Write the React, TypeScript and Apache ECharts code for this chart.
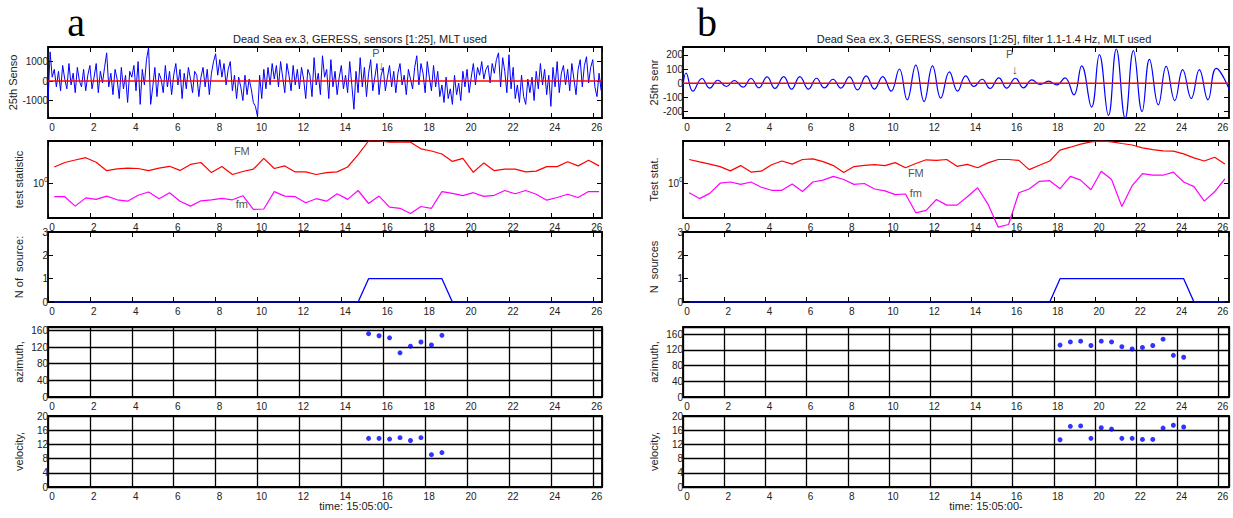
import React, { useEffect, useRef } from 'react';
import * as echarts from 'echarts';

// ---------- data ----------
const xTickLabels = [0, 2, 4, 6, 8, 10, 12, 14, 16, 18, 20, 22, 24, 26];

// panel a1: raw trace, 25th sensor, sampled every 0.1 s from t = 0
const a1Step = 0.1;
const a1Values = [
  -1100, 1500, 200, 600, -300, 500, -500, 800, 100, -400,
  900, -200, 400, -600, 700, 0, -300, 600, -500, 300,
  800, -400, 200, 900, -600, 500, -100, 700, 1450, -300,
  400, -700, 600, 100, -900, 700, -400, 300, -1100, 500,
  200, 800, -500, 1000, -1200, 600, -200, 1100, 1720, -1200,
  -300, 700, -800, 400, 100, -600, 800, -300, 500, -700,
  300, 900, -200, 600, -900, 400, -400, 700, 100, -600,
  500, 300, -800, 200, 700, -300, 600, -700, 400, 1000,
  1400, 300, 1100, 200, 900, -200, 600, 1000, -500, 300,
  -900, 200, -300, -1000, 300, -700, 100, -400, -1100, -1300,
  -1830, 300, -900, 600, -400, 700, -200, 900, 100, 800,
  -300, 1000, 200, -600, 900, 300, -500, 800, -200, 600,
  -400, 700, 100, -900, 600, 300, -800, 1200, -200, 400,
  -700, 1300, 200, 600, -900, 1100, -300, 500, -700, 200,
  800, -400, 300, -600, 1000, -200, -1450, 500, -600, 1200,
  -300, 700, -800, 400, 1100, -500, 200, 900, -700, 300,
  700, -500, 200, 800, -300, 500, -600, 400, 900, -200,
  300, -700, 600, 100, -400, 700, 1300, -200, 900, 400,
  -600, 1000, 200, -500, 800, -300, 500, -800, -200, -1100,
  200, -900, -400, -1200, 300, -700, -100, -1000, 500, -300,
  600, -600, 200, 900, -200, 700, 300, 1000, 100, 600,
  800, -100, 900, 400, 1100, 1450, -300, 1200, 500, -600,
  1350, -400, 700, -900, -200, -1100, 300, -800, -1200, 100,
  -600, 200, -1000, 500, -400, 900, -200, 600, -700, 300,
  -1300, 700, -300, 1000, -600, 400, 800, -200, 600, -500,
  900, 100, -700, 600, 1100, -300, 800, 1250, -100, 700,
  1100, -300, -800, 400, -500,
];

// panel b1: filtered trace (turning points)
const b1Times = [
  0, 0.15, 0.48, 0.92, 1.3, 1.69, 2.11, 2.49, 2.91, 3.3, 3.68, 4.08, 4.46, 4.89, 5.27,
  5.67, 6.09, 6.48, 6.86, 7.28, 7.66, 8.08, 8.47, 8.89, 9.29, 9.69, 10.1, 10.5, 10.88,
  11.3, 11.7, 12.11, 12.51, 12.93, 13.33, 13.72, 14.12, 14.52, 14.9, 15.33, 15.71,
  16.13, 16.53, 16.93, 17.34, 17.74, 18.14, 18.54, 18.97, 19.35, 19.83, 20.21, 20.65,
  21.03, 21.46, 21.86, 22.28, 22.64, 23.07, 23.45, 23.87, 24.25, 24.67, 25.06, 25.48,
  25.88, 26.5,
];
const b1Values = [
  -30, 72, -56, 33, -35, 21, -23, 19, -28, 33, -33, 44, -37, 47, -42,
  47, -42, 35, -33, 28, -35, 44, -47, 51, -42, 47, -56, 100, -117,
  128, -129, 122, -105, 80, -56, 51, -23, 28, -37, 37, -35,
  35, -33, 23, -9, 14, -12, 37, -82, 122, -168, 201, -227,
  241, -246, 229, -199, 168, -152, 119, -122, 96, -108, 96, -117,
  105, -40,
];

// test statistic (log10 of statistic), every 0.5 s
const statTimes = [
  0.3, 0.8, 1.3, 1.8, 2.3, 2.8, 3.3, 3.8, 4.3, 4.8, 5.3, 5.8, 6.3, 6.8, 7.3, 7.8, 8.3, 8.8,
  9.3, 9.8, 10.3, 10.8, 11.3, 11.8, 12.3, 12.8, 13.3, 13.8, 14.3, 14.8, 15.3, 15.8, 16.3,
  16.8, 17.3, 17.8, 18.3, 18.8, 19.3, 19.8, 20.3, 20.8, 21.3, 21.8, 22.3, 22.8, 23.3, 23.8,
  24.3, 24.8, 25.3, 25.8, 26.3,
];
const aFM = [
  0.160, 0.205, 0.230, 0.253, 0.208, 0.123, 0.141, 0.148, 0.145, 0.123, 0.148, 0.167, 0.126,
  0.186, 0.205, 0.104, 0.164, 0.085, 0.115, 0.138, 0.246, 0.145, 0.171, 0.111, 0.111, 0.085,
  0.104, 0.111, 0.160, 0.283, 0.420, 0.420, 0.408, 0.412, 0.408, 0.342, 0.320, 0.290, 0.216,
  0.246, 0.107, 0.201, 0.123, 0.138, 0.138, 0.111, 0.119, 0.164, 0.164, 0.212, 0.171, 0.227,
  0.171,
];
const afm = [
  -0.137, -0.137, -0.231, -0.149, -0.164, -0.131, -0.168, -0.182, -0.123, -0.090, -0.157,
  -0.097, -0.182, -0.231, -0.178, -0.168, -0.153, -0.168, -0.127, -0.264, -0.260, -0.086,
  -0.131, -0.137, -0.198, -0.157, -0.182, -0.108, -0.164, -0.075, -0.205, -0.131, -0.242,
  -0.253, -0.305, -0.235, -0.253, -0.086, -0.104, -0.127, -0.097, -0.134, -0.123, -0.075,
  -0.108, -0.075, -0.112, -0.172, -0.145, -0.112, -0.145, -0.086, -0.086,
];
const bFM = [
  0.235, 0.211, 0.189, 0.164, 0.121, 0.174, 0.109, 0.118, 0.183, 0.220, 0.189, 0.235, 0.241,
  0.214, 0.174, 0.106, 0.164, 0.177, 0.183, 0.174, 0.204, 0.152, 0.195, 0.232, 0.226, 0.235,
  0.167, 0.186, 0.152, 0.201, 0.235, 0.235, 0.226, 0.134, 0.177, 0.220, 0.328, 0.358, 0.389,
  0.411, 0.420, 0.411, 0.395, 0.380, 0.352, 0.334, 0.321, 0.318, 0.291, 0.251, 0.220, 0.257,
  0.189,
];
const bfm = [
  -0.097, -0.156, -0.104, -0.002, 0.010, -0.014, 0.010, -0.042, -0.073, -0.073, -0.011,
  -0.085, 0.010, 0.029, 0.066, 0.035, -0.014, -0.005, -0.060, -0.079, -0.116, -0.110,
  -0.298, -0.273, -0.165, -0.221, -0.221, -0.137, -0.048, -0.211, -0.442, -0.415, -0.097,
  -0.060, 0.017, 0.023, -0.057, 0.066, 0.029, -0.067, 0.118, 0.035, -0.236, -0.027, 0.094,
  0.078, 0.078, 0.109, 0.010, -0.036, -0.181, -0.088, 0.041,
];

// number of sources (breakpoints)
const aNTimes = [0.3, 14.8, 15.3, 18.8, 19.3, 26.3];
const aN = [0, 0, 1, 1, 0, 0];
const bNTimes = [0.3, 17.8, 18.3, 24.3, 24.8, 26.3];
const bN = [0, 0, 1, 1, 0, 0];

// azimuth / velocity of detected source
const aSrcTimes = [15.3, 15.8, 16.3, 16.8, 17.3, 17.8, 18.3, 18.8];
const aAz = [152, 147, 142, 106, 122, 132, 125, 148];
const aVel = [13.7, 13.7, 13.5, 13.9, 13.1, 13.9, 9.1, 9.7];
const bSrcTimes = [18.3, 18.8, 19.3, 19.8, 20.3, 20.8, 21.3, 21.8, 22.3, 22.8, 23.3, 23.8, 24.3];
const bAz = [132, 140, 142, 131, 142, 140, 128, 122, 126, 131, 147, 106, 101];
const bVel = [13.3, 17.1, 17.2, 13.7, 16.7, 16.3, 13.7, 13.7, 13.4, 13.4, 16.6, 17.4, 16.9];

const a1Ticks = [-1000, 0, 1000];
const b1Ticks = [-200, -100, 0, 100, 200];

// ---------- layout ----------
const FONT = 'Liberation Sans, Arial, Helvetica, sans-serif';
const COLS = [
  { left: 48, width: 554, xMax: 26.44 },
  { left: 683, width: 546, xMax: 26.5 },
];
const ROWS = [
  { top: 47, height: 71 },
  { top: 141, height: 77 },
  { top: 232, height: 70 },
  { top: 327, height: 70 },
  { top: 416, height: 71 },
];

function buildOption() {
  const grid: any[] = [];
  const xAxis: any[] = [];
  const yAxis: any[] = [];
  const series: any[] = [];

  const tickStyle = { color: '#000', width: 1 };
  const labelBase = { color: '#222', fontSize: 10, fontFamily: FONT };

  const addPanel = (p: any) => {
    const gi = grid.length;
    const col = COLS[p.col];
    const row = ROWS[p.row];
    grid.push({
      left: col.left, top: row.top, width: col.width, height: row.height,
      show: true, borderColor: '#000', borderWidth: 1.8, backgroundColor: 'transparent',
    });
    const xi = xAxis.length;
    const xBase = { type: 'value', gridIndex: gi, min: 0, max: col.xMax, interval: 2 };
    xAxis.push({
      ...xBase, position: 'bottom',
      axisLine: { show: false, onZero: false },
      axisTick: { inside: true, length: 5, lineStyle: tickStyle },
      axisLabel: {
        ...labelBase, margin: 4, padding: [0, 0, 0, 8], showMaxLabel: false,
        formatter: (v: number) => (xTickLabels.indexOf(v) >= 0 ? String(v) : ''),
      },
      splitLine: { show: !!p.gridLines, lineStyle: { color: '#000', width: 1.3 } },
    });
    xAxis.push({
      ...xBase, position: 'top',
      axisLine: { show: false, onZero: false },
      axisTick: { inside: true, length: 5, lineStyle: tickStyle },
      axisLabel: { show: false },
      splitLine: { show: false },
    });
    const yi = yAxis.length;
    const yBase: any = { type: 'value', gridIndex: gi, min: p.yMin, max: p.yMax };
    if (p.interval) yBase.interval = p.interval;
    const tickExtra: any = p.custom ? { customValues: p.custom } : {};
    yAxis.push({
      ...yBase, position: 'left',
      name: p.name, nameLocation: 'middle', nameRotate: 90, nameGap: p.nameGap ?? 24,
      nameTextStyle: { color: '#222', fontSize: 11, fontFamily: FONT },
      axisLine: { show: false, onZero: false },
      axisTick: { inside: true, length: 5, lineStyle: tickStyle, ...tickExtra },
      axisLabel: {
        ...labelBase, margin: 0, showMaxLabel: p.showMax !== false, hideOverlap: false, ...tickExtra,
        formatter: p.labelFmt, rich: p.rich,
      },
      splitLine: { show: !!p.gridLines, lineStyle: { color: '#000', width: 1.3 } },
    });
    yAxis.push({
      ...yBase, position: 'right',
      axisLine: { show: false, onZero: false },
      axisTick: { inside: true, length: 5, lineStyle: tickStyle, ...tickExtra },
      axisLabel: { show: false },
      splitLine: { show: false },
    });
    return { xi, yi };
  };

  const line = (ax: any, xs: number[], ys: number[], color: string, width: number, extra: any = {}) => {
    series.push({
      type: 'line', xAxisIndex: ax.xi, yAxisIndex: ax.yi, showSymbol: false, silent: true,
      lineStyle: { color, width }, itemStyle: { color },
      data: xs.map((x, i) => [x, ys[i]]), ...extra,
    });
  };
  const dots = (ax: any, xs: number[], ys: number[]) => {
    series.push({
      type: 'scatter', xAxisIndex: ax.xi, yAxisIndex: ax.yi, symbolSize: 5, silent: true,
      itemStyle: { color: '#0000ff' }, data: xs.map((x, i) => [x, ys[i]]),
    });
  };
  const texts = (ax: any, items: any[], fontSize = 11) => {
    series.push({
      type: 'scatter', xAxisIndex: ax.xi, yAxisIndex: ax.yi, symbolSize: 1, silent: true,
      itemStyle: { color: 'rgba(0,0,0,0)' }, z: 5,
      label: { show: true, position: 'inside', formatter: (p: any) => p.name, color: '#222', fontSize, fontFamily: FONT },
      data: items, clip: false,
    });
  };
  const statFmt = (v: number) => (Math.abs(v) < 1e-9 ? '{b|10}{s|0}' : '');
  const statRich = {
    b: { fontSize: 10, color: '#222', fontFamily: FONT },
    s: { fontSize: 7, color: '#222', fontFamily: FONT, padding: [0, 0, 7, 0] },
  };

  // ----- column a -----
  const a1 = addPanel({
    col: 0, row: 0, yMin: -1900, yMax: 1750, custom: a1Ticks, name: '25th Senso',
    labelFmt: (v: number) => (a1Ticks.indexOf(v) >= 0 ? String(v) : ''),
  });
  line(a1, a1Values.map((_, i) => +(i * a1Step).toFixed(2)), a1Values, '#0000ff', 1);
  line(a1, [0, COLS[0].xMax], [0, 0], '#ff0000', 1.6);
  texts(a1, [{ name: 'P', value: [15.65, 1420] }]);
  texts(a1, [{ name: '↓', value: [15.9, 800] }], 13);

  const a2 = addPanel({
    col: 0, row: 1, yMin: -0.35, yMax: 0.42, custom: [0], name: 'test statistic',
    labelFmt: statFmt, rich: statRich,
  });
  line(a2, statTimes, aFM, '#ff0000', 1.2, { clip: false });
  line(a2, statTimes, afm, '#ff00ff', 1.2, { clip: false });
  texts(a2, [{ name: 'FM', value: [9.25, 0.32] }, { name: 'fm', value: [9.25, -0.21] }]);

  const a3 = addPanel({ col: 0, row: 2, yMin: 0, yMax: 3, interval: 1, name: 'N of  source:' });
  line(a3, aNTimes, aN, '#0000ff', 1.3);

  const a4 = addPanel({
    col: 0, row: 3, yMin: 0, yMax: 168, interval: 40, name: 'azimuth,', gridLines: true, showMax: false,
    labelFmt: (v: number) => (v % 40 === 0 ? String(v) : ''),
  });
  dots(a4, aSrcTimes, aAz);

  const a5 = addPanel({ col: 0, row: 4, yMin: 0, yMax: 20, interval: 4, name: 'velocity,', gridLines: true });
  dots(a5, aSrcTimes, aVel);

  // ----- column b -----
  const b1 = addPanel({
    col: 1, row: 0, yMin: -245, yMax: 255, custom: b1Ticks, name: '25th senr',
    labelFmt: (v: number) => (b1Ticks.indexOf(v) >= 0 ? String(v) : ''),
  });
  line(b1, b1Times, b1Values, '#0000ff', 1.2, { smooth: 0.45 });
  line(b1, [0, COLS[1].xMax], [0, 0], '#ff0000', 1.6);
  texts(b1, [{ name: 'P', value: [15.85, 205] }]);
  texts(b1, [{ name: '↓', value: [16.1, 100] }], 13);

  const b2 = addPanel({
    col: 1, row: 1, yMin: -0.35, yMax: 0.42, custom: [0], name: 'Test stat.',
    labelFmt: statFmt, rich: statRich,
  });
  line(b2, statTimes, bFM, '#ff0000', 1.2, { clip: false });
  line(b2, statTimes, bfm, '#ff00ff', 1.2, { clip: false });
  texts(b2, [{ name: 'FM', value: [11.3, 0.1] }, { name: 'fm', value: [11.3, -0.1] }]);

  const b3 = addPanel({ col: 1, row: 2, yMin: 0, yMax: 3, interval: 1, name: 'N  sources' });
  line(b3, bNTimes, bN, '#0000ff', 1.3);

  const b4 = addPanel({
    col: 1, row: 3, yMin: 0, yMax: 178, interval: 40, name: 'azimuth,', gridLines: true, showMax: false,
    labelFmt: (v: number) => (v % 40 === 0 ? String(v) : ''),
  });
  dots(b4, bSrcTimes, bAz);

  const b5 = addPanel({ col: 1, row: 4, yMin: 0, yMax: 20, interval: 4, name: 'velocity,', gridLines: true });
  dots(b5, bSrcTimes, bVel);

  const graphic = [
    { type: 'text', x: 76, y: 22, style: { text: 'a', font: '40px "Liberation Serif", "Times New Roman", serif', fill: '#000', textAlign: 'center', textVerticalAlign: 'middle' } },
    { type: 'text', x: 707, y: 22, style: { text: 'b', font: '40px "Liberation Serif", "Times New Roman", serif', fill: '#000', textAlign: 'center', textVerticalAlign: 'middle' } },
    { type: 'text', x: 360, y: 39, style: { text: 'Dead Sea ex.3, GERESS, sensors [1:25], MLT used', font: `11px ${FONT}`, fill: '#222', textAlign: 'center', textVerticalAlign: 'middle' } },
    { type: 'text', x: 984, y: 39, style: { text: 'Dead Sea ex.3, GERESS, sensors [1:25], filter 1.1-1.4 Hz, MLT used', font: `11px ${FONT}`, fill: '#222', textAlign: 'center', textVerticalAlign: 'middle' } },
    { type: 'text', x: 356, y: 506, style: { text: 'time: 15:05:00-', font: `11px ${FONT}`, fill: '#222', textAlign: 'center', textVerticalAlign: 'middle' } },
    { type: 'text', x: 986, y: 506, style: { text: 'time: 15:05:00-', font: `11px ${FONT}`, fill: '#222', textAlign: 'center', textVerticalAlign: 'middle' } },
  ];

  return {
    animation: false,
    backgroundColor: '#ffffff',
    textStyle: { fontFamily: FONT },
    grid, xAxis, yAxis, series, graphic,
  };
}

export default function App() {
  const ref = useRef<HTMLDivElement>(null);
  useEffect(() => {
    if (!ref.current) return;
    const chart = echarts.init(ref.current, undefined, { renderer: 'svg' });
    chart.setOption(buildOption() as any);
    return () => chart.dispose();
  }, []);
  return (
    <div
      ref={ref}
      style={{ position: 'absolute', left: 0, top: 0, width: 1233, height: 518, background: '#fff' }}
    />
  );
}
